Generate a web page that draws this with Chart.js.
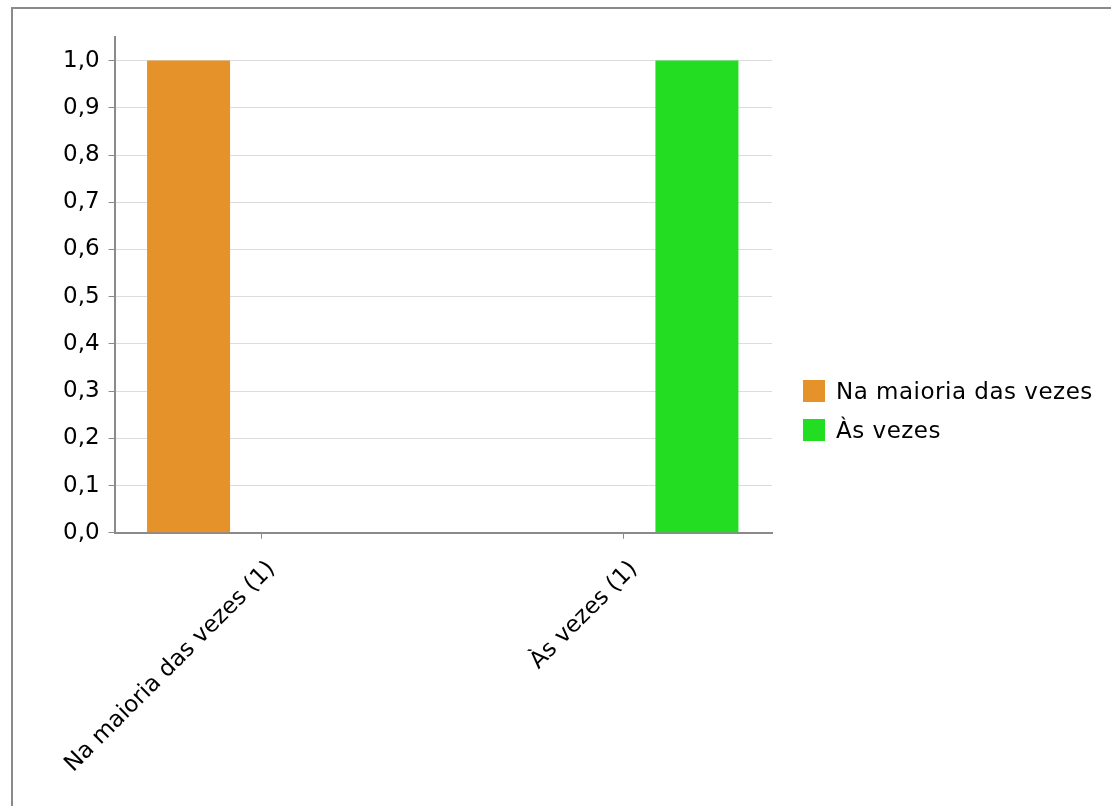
<!DOCTYPE html>
<html>
<head>
<meta charset="utf-8">
<script src="https://cdn.jsdelivr.net/npm/chart.js@4.4.1/dist/chart.umd.min.js"></script>
<style>
  html, body { margin: 0; padding: 0; background: #fff; overflow: hidden; }
  #frame {
    position: absolute; left: 11px; top: 7px;
    width: 1200px; height: 900px;
    border: 2px solid #8a8a8a; box-sizing: border-box;
  }
  #wrap { position: absolute; left: 0; top: 0; width: 1111px; height: 806px; }
  #legend {
    position: absolute; left: 803px; top: 380px;
    font-family: 'DejaVu Sans'; font-size: 23px; color: #000;
    letter-spacing: 0.5px;
  }
  #legend .item { display: flex; align-items: center; height: 22px; margin-bottom: 17px; white-space: nowrap; }
  #legend .swatch { width: 22px; height: 22px; margin-right: 11px; flex: none; }
</style>
</head>
<body>
<div id="frame"></div>
<div id="wrap"><canvas id="chart"></canvas></div>
<div id="legend"></div>
<script>
// ─── Data ───────────────────────────────────────────────────────────────────

const categories = ['Na maioria das vezes (1)', 'Às vezes (1)'];
const seriesNames = ['Na maioria das vezes', 'Às vezes'];
const seriesColors = ['#e6922b', '#22dd22'];
const seriesValues = [
  [1, 0],
  [0, 1]
];
const yTicks = [0, 0.1, 0.2, 0.3, 0.4, 0.5, 0.6, 0.7, 0.8, 0.9, 1.0];

const FONT = 'DejaVu Sans';
const FONT_SIZE = 23;
const AXIS_GRAY = '#8a8a8a';

// ─── Legend (HTML, the canvas legend box is too narrow at this size) ────────

const legendEl = document.getElementById('legend');
seriesNames.forEach((name, s) => {
  const item = document.createElement('div');
  item.className = 'item';
  const sw = document.createElement('span');
  sw.className = 'swatch';
  sw.style.background = seriesColors[s];
  const label = document.createElement('span');
  label.textContent = name;
  item.append(sw, label);
  legendEl.appendChild(item);
});

// ─── Chart ──────────────────────────────────────────────────────────────────

const datasets = seriesNames.map((name, s) => ({
  label: name,
  data: seriesValues[s].map((v, i) => ({ x: i, y: v })),
  backgroundColor: seriesColors[s],
  borderWidth: 0,
  categoryPercentage: 0.807,
  barPercentage: 0.568
}));

new Chart(document.getElementById('chart'), {
  type: 'bar',
  data: { datasets },
  options: {
    responsive: true,
    maintainAspectRatio: false,
    animation: false,
    layout: { padding: { left: 54, top: 37, right: 339, bottom: 11 } },
    plugins: {
      tooltip: { enabled: false },
      legend: { display: false }
    },
    scales: {
      x: {
        type: 'linear',
        offset: false,
        min: -0.406,
        max: 1.409,
        afterBuildTicks: (scale) => {
          scale.ticks = categories.map((c, i) => ({ value: i }));
        },
        ticks: {
          font: { family: FONT, size: FONT_SIZE },
          color: '#000',
          minRotation: 45,
          maxRotation: 45,
          padding: 17,
          labelOffset: 10,
          callback: (val) => categories[val] ?? ''
        },
        grid: {
          offset: false,
          drawOnChartArea: false,
          drawTicks: true,
          tickLength: 6,
          tickColor: AXIS_GRAY
        },
        border: { color: AXIS_GRAY, width: 2 }
      },
      y: {
        min: 0,
        max: 1.05,
        afterBuildTicks: (scale) => {
          scale.ticks = yTicks.map(v => ({ value: v }));
        },
        ticks: {
          font: { family: FONT, size: FONT_SIZE },
          color: '#000',
          padding: 9,
          callback: (val) => val.toFixed(1).replace('.', ',')
        },
        grid: {
          color: '#dcdcdc',
          lineWidth: 1,
          tickLength: 6,
          tickColor: AXIS_GRAY
        },
        border: { color: AXIS_GRAY, width: 2 }
      }
    }
  }
});
</script>
</body>
</html>
